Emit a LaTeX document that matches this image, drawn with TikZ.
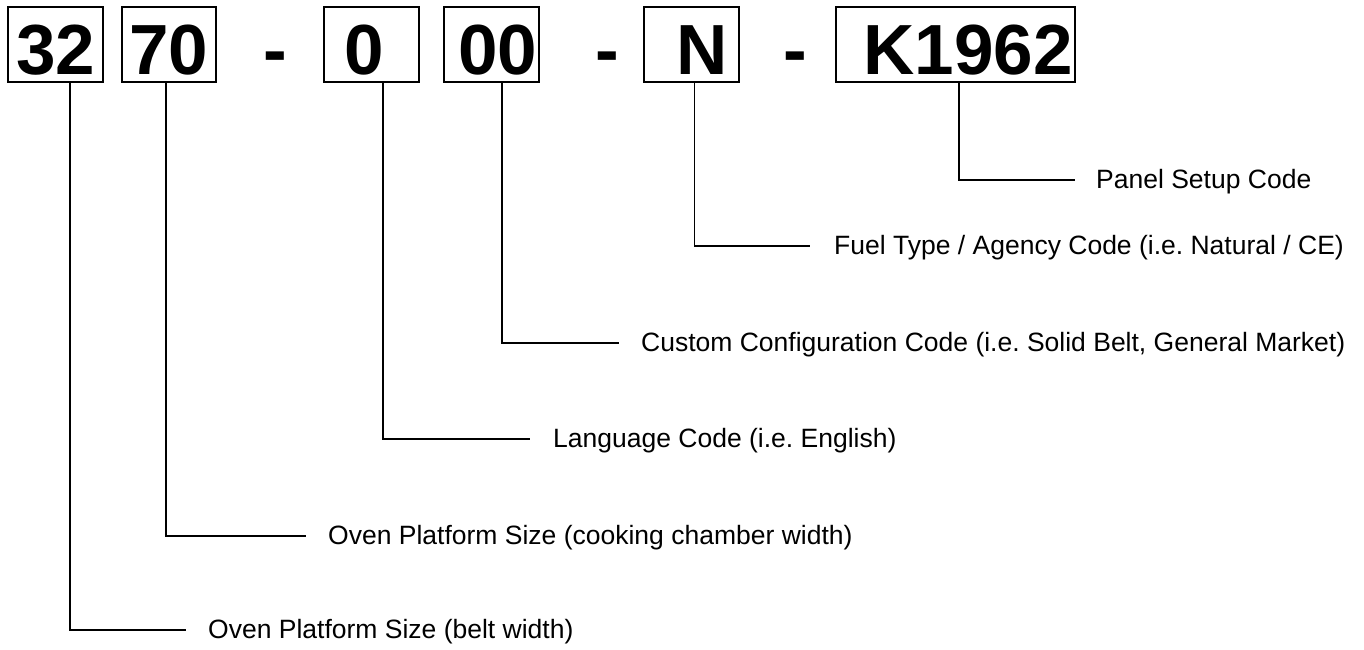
\documentclass[tikz,border=0pt]{standalone}
\usepackage{fontspec}
\setmainfont{Liberation Sans}
\newfontfamily\codefont{Liberation Sans}[BoldFont={Liberation Sans Bold}]
\frenchspacing
\begin{document}
\begin{tikzpicture}[x=1pt,y=-1pt,
  codebox/.style={draw,line width=2pt,anchor=base,minimum width=94.7pt,
    text height=59.3pt,text depth=0pt,inner ysep=8pt,inner xsep=0pt,
    font=\codefont\bfseries\fontsize{71}{71}\selectfont},
  sep/.style={anchor=base,inner sep=0pt,font=\codefont\bfseries\fontsize{71}{71}\selectfont},
  conn/.style={line width=1.6pt},
  lab/.style={anchor=base west,inner sep=0pt,font=\fontsize{26.5}{30}\selectfont\frenchspacing}]
\useasboundingbox (0,0) rectangle (1364,649);
% code boxes
\node[codebox] (b32) at (55.7,74) {32};
\node[codebox] (b70) at (169,74) {70};
\node[sep] (d1) at (275.5,74) {-};
\node[codebox] (b0) at (371.7,74) {0\hspace*{14pt}};
\node[codebox] (b00) at (491.7,74) {\hspace*{12pt}00};
\node[sep] (d2) at (607.5,74) {-};
\node[codebox] (bN) at (691.7,74) {\hspace*{20pt}N};
\node[sep] (d3) at (795.5,74) {-};
\node[codebox,minimum width=239pt] (bK) at (955.5,74) {\hspace*{25pt}K1962};
% line ends
\coordinate (eK) at (1075,180);
\coordinate (eN) at (810,246);
\coordinate (e00) at (619,343);
\coordinate (e0) at (530,439);
\coordinate (e70) at (306,536);
\coordinate (e32) at (186,630);
% labels
\node[lab] (lK) at (1096,188) {Panel Setup Code};
\node[lab] (lN) at (834,254) {Fuel Type / Agency Code (i.e. Natural / CE)};
\node[lab] (l00) at (641,351) {Custom Configuration Code (i.e. Solid Belt, General Market)};
\node[lab] (l0) at (553,447) {Language Code (i.e. English)};
\node[lab] (l70) at (328,544) {Oven Platform Size (cooking chamber width)};
\node[lab] (l32) at (208,638) {Oven Platform Size (belt width)};
% connectors
\draw[conn] ([xshift=3.2pt]bK.south) |- (eK);
\draw[conn] ([xshift=2.6pt]bN.south) |- (eN);
\draw[conn] ([xshift=10.3pt]b00.south) |- (e00);
\draw[conn] ([xshift=11pt]b0.south) |- (e0);
\draw[conn] ([xshift=-3pt]b70.south) |- (e70);
\draw[conn] ([xshift=14.3pt]b32.south) |- (e32);
\end{tikzpicture}
\end{document}
